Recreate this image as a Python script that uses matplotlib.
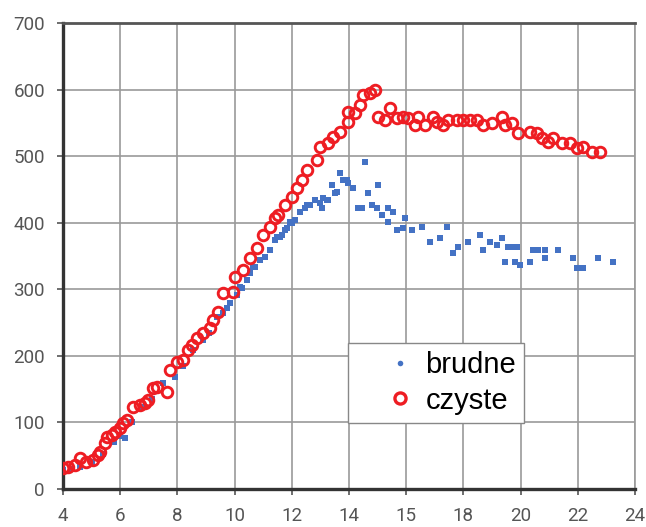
import matplotlib
matplotlib.use("Agg")
import matplotlib.pyplot as plt
from matplotlib.lines import Line2D

# czyste (red open circles)
czyste_x = [4.0, 4.17, 4.42, 4.59, 4.8, 5.05, 5.22, 5.29, 5.47, 5.54,
            5.71, 5.82, 5.99, 6.10, 6.24, 6.45, 6.69, 6.87, 6.97, 7.15,
            7.29, 7.64, 7.74, 7.99, 8.20, 8.37, 8.51, 8.69, 8.90, 9.14,
            9.24, 9.42, 9.59, 9.94, 10.01, 10.29, 10.54, 10.78, 10.99, 11.24,
            11.41, 11.52, 11.76, 12.01, 12.18, 12.36, 12.53, 12.88, 12.99, 13.27,
            13.44, 13.69, 13.97, 13.97, 14.21, 14.38, 14.49, 14.73, 14.91, 15.01,
            15.26, 15.43, 15.68, 15.89, 16.06, 16.31, 16.41, 16.66, 16.94, 17.08,
            17.29, 17.46, 17.78, 17.99, 18.23, 18.48, 18.69, 19.0, 19.35, 19.45,
            19.70, 19.91, 20.33, 20.57, 20.75, 20.96, 21.13, 21.45, 21.73, 21.97,
            22.18, 22.50, 22.78]
czyste_y = [31, 33, 36, 47, 41, 44, 51, 56, 69, 78,
            81, 86, 92, 99, 104, 123, 126, 129, 134, 152,
            153, 146, 179, 191, 194, 209, 216, 227, 234, 242,
            254, 266, 294, 296, 318, 329, 347, 362, 381, 394,
            407, 412, 427, 439, 452, 464, 479, 494, 514, 520,
            529, 536, 551, 566, 565, 577, 592, 595, 599, 559,
            554, 572, 557, 559, 557, 547, 559, 547, 559, 551,
            547, 554, 554, 554, 554, 554, 547, 550, 559, 547,
            550, 535, 536, 535, 527, 521, 527, 520, 520, 512,
            514, 506, 506]

# brudne (blue squares)
brudne_x = [4.0, 4.3, 4.59, 5.0, 5.4, 5.8, 6.0, 6.17, 6.4, 6.8,
            7.1, 7.5, 7.92, 8.2, 8.55, 8.9, 9.1, 9.38, 9.73, 9.84,
            10.19, 10.43, 10.64, 10.89, 11.06, 11.24, 11.48, 11.66, 11.76, 11.94,
            12.11, 12.29, 12.46, 12.64, 12.81, 12.99, 13.06, 13.23, 13.41, 13.58,
            13.69, 13.79, 13.97, 14.14, 14.31, 14.45, 14.56, 14.66, 14.80, 15.01,
            14.98, 15.15, 15.36, 15.36, 15.54, 15.68, 15.89, 15.96, 16.20, 16.55,
            16.83, 17.18, 17.43, 17.64, 17.81, 18.16, 18.58, 18.69, 18.93, 19.17,
            19.35, 19.45, 19.56, 19.73, 19.87, 19.80, 19.98, 20.33, 20.43, 20.61,
            20.85, 20.85, 21.31, 21.83, 21.97, 22.18, 22.71, 23.23,
            9.59, 10.08, 10.26, 10.54, 10.71, 11.41, 11.59, 11.83, 12.01, 12.53,
            13.09, 13.27, 13.51, 13.93]
brudne_y = [28, 30, 33, 40, 52, 70, 80, 77, 100, 123,
            135, 159, 168, 185, 209, 224, 235, 258, 272, 279,
            303, 314, 333, 344, 348, 359, 379, 382, 389, 401,
            404, 416, 422, 427, 434, 430, 422, 434, 457, 446,
            475, 464, 460, 452, 422, 422, 491, 445, 427, 457,
            422, 412, 422, 401, 416, 389, 392, 407, 389, 394,
            371, 377, 394, 354, 364, 371, 382, 359, 371, 367,
            377, 341, 364, 364, 364, 341, 336, 341, 359, 359,
            359, 347, 359, 347, 332, 332, 347, 341,
            264, 291, 302, 324, 333, 374, 379, 392, 399, 427,
            437, 434, 445, 464]

xtick_pos = [4, 6, 8, 10, 12, 14, 16, 18, 20, 22, 24]
xtick_labels = ['4', '6', '8', '10', '12', '14', '15', '18', '20', '22', '24']
ytick_pos = [0, 100, 200, 300, 400, 500, 600, 700]

BLUE = '#4472c4'
RED = '#ee1d23'

fig = plt.figure(figsize=(6.46, 5.27), dpi=100)
ax = fig.add_axes([63/646, 38/527, 572/646, 466/527])

ax.plot(brudne_x, brudne_y, linestyle='none', marker='s', markersize=5,
        color=BLUE, markeredgewidth=0, zorder=3)
ax.plot(czyste_x, czyste_y, linestyle='none', marker='o', markersize=7.6,
        markerfacecolor='none', markeredgecolor=RED, markeredgewidth=2.1, zorder=4)

ax.set_xlim(4, 24)
ax.set_ylim(0, 700)
ax.set_xticks(xtick_pos)
ax.set_xticklabels(xtick_labels)
ax.set_yticks(ytick_pos)

ax.grid(True, color='#9a9a9a', linewidth=1.2, zorder=0)
ax.set_axisbelow(True)

for s in ['left', 'bottom']:
    ax.spines[s].set_linewidth(2.4)
    ax.spines[s].set_color('#333333')
ax.spines['top'].set_linewidth(2.0)
ax.spines['top'].set_color('#555555')
ax.spines['right'].set_linewidth(1.2)
ax.spines['right'].set_color('#9a9a9a')

ax.tick_params(axis='both', which='both', length=4, width=1.2, color='#555555',
               labelsize=13.5, labelcolor='#555555', pad=9)
for lab in ax.get_xticklabels() + ax.get_yticklabels():
    lab.set_family('Roboto')

handles = [
    Line2D([], [], linestyle='none', marker='o', markersize=4, color=BLUE,
           markeredgewidth=0),
    Line2D([], [], linestyle='none', marker='o', markersize=8,
           markerfacecolor='none', markeredgecolor=RED, markeredgewidth=2.4),
]
leg = ax.legend(handles, ['brudne', 'czyste'], loc='upper left',
                bbox_to_anchor=(0.498, 0.313), borderaxespad=0,
                prop={'family': 'Liberation Sans', 'size': 21},
                handlelength=3.0, handletextpad=-0.62, borderpad=0.28,
                labelspacing=0.25, fancybox=False, framealpha=1,
                edgecolor='#888888', numpoints=1)
leg.get_frame().set_linewidth(1.0)
leg.set_zorder(10)

fig.savefig('out.png', dpi=100)
